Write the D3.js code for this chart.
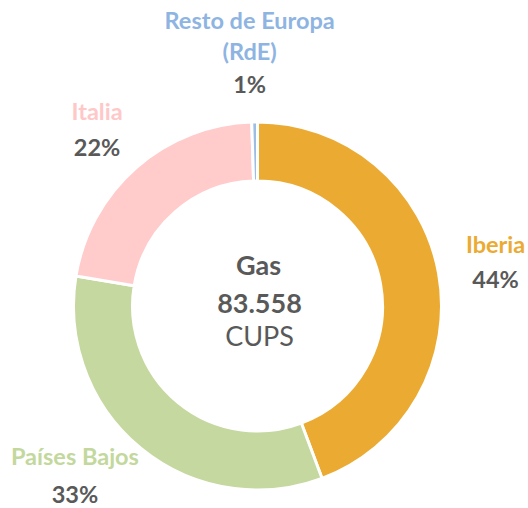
<!DOCTYPE html>
<html>
<head>
<meta charset="utf-8">
<script src="https://cdn.jsdelivr.net/npm/d3@7"></script>
<style>
  body { margin: 0; background: #fff; }
  svg { display: block; font-family: Lato, "Open Sans", sans-serif; }
</style>
</head>
<body>
<div id="chart"></div>
<script>
// --------------------------------------
//  Data
// --------------------------------------

const regions = ["Iberia", "Países Bajos", "Italia", "Resto de Europa\n(RdE)"];
const cups = [37016, 27825, 18299, 418];
const sliceColors = ["#EBAB33", "#C5D89F", "#FFCBCB", "#9DBDE3"];
const labelColors = ["#EBAB33", "#C3D89C", "#FFC8C8", "#8EB4E2"];
const totalLabel = "83.558";

// --------------------------------------
//  Canvas
// --------------------------------------

const width = 528, height = 508;
const cx = 257.5, cy = 306;
const outerR = 184, innerR = 125, labelR = 245;

// label fine tuning (layout only)
const nudge = [[-3, -9], [-27, -30], [1, -2], [-4, -1]];
const gap = [35, 38, 36, 33];

const svg = d3.select("#chart")
  .append("svg")
    .attr("width", width)
    .attr("height", height);

const g = svg.append("g")
    .attr("transform", `translate(${cx}, ${cy})`);

// --------------------------------------
//  Pie
// --------------------------------------

const data = regions.map((r, i) => ({ region: r, value: cups[i], i }));
const total = d3.sum(cups);

const pie = d3.pie()
    .sort(null)
    .value(d => d.value);

const arc = d3.arc()
    .innerRadius(innerR)
    .outerRadius(outerR);

const arcs = pie(data);

g.selectAll("path")
  .data(arcs)
  .join("path")
    .attr("d", arc)
    .attr("fill", d => sliceColors[d.data.i])
    .attr("stroke", "#fff")
    .attr("stroke-width", 3);

// --------------------------------------
//  Labels
// --------------------------------------

const labels = g.selectAll("g.label")
  .data(arcs)
  .join("g")
    .attr("class", "label")
    .attr("transform", d => {
      const a = (d.startAngle + d.endAngle) / 2;
      const n = nudge[d.data.i];
      return `translate(${labelR * Math.sin(a) + n[0]}, ${-labelR * Math.cos(a) + n[1]})`;
    });

labels.each(function(d) {
  const el = d3.select(this);
  const lines = d.data.region.split("\n");
  lines.forEach((line, k) => {
    el.append("text")
      .attr("text-anchor", "middle")
      .attr("y", (k - lines.length + 1) * 31)
      .attr("font-size", 23.5)
      .attr("font-weight", "bold")
      .attr("fill", labelColors[d.data.i])
      .text(line);
  });
  el.append("text")
    .attr("text-anchor", "middle")
    .attr("y", gap[d.data.i])
    .attr("font-size", 23.5)
    .attr("font-weight", "bold")
    .attr("fill", "#595959")
    .text(Math.round(d.data.value / total * 100) + "%");
});

// --------------------------------------
//  Center text
// --------------------------------------

const center = g.append("g").attr("text-anchor", "middle").attr("fill", "#595959");

center.append("text")
    .attr("x", 1)
    .attr("y", -31)
    .attr("font-size", 27)
    .attr("font-weight", "bold")
    .text("Gas");

center.append("text")
    .attr("x", 2)
    .attr("y", 7)
    .attr("font-size", 27)
    .attr("font-weight", "bold")
    .text(totalLabel);

center.append("text")
    .attr("x", 2)
    .attr("y", 40)
    .attr("font-size", 27)
    .text("CUPS");
</script>
</body>
</html>
